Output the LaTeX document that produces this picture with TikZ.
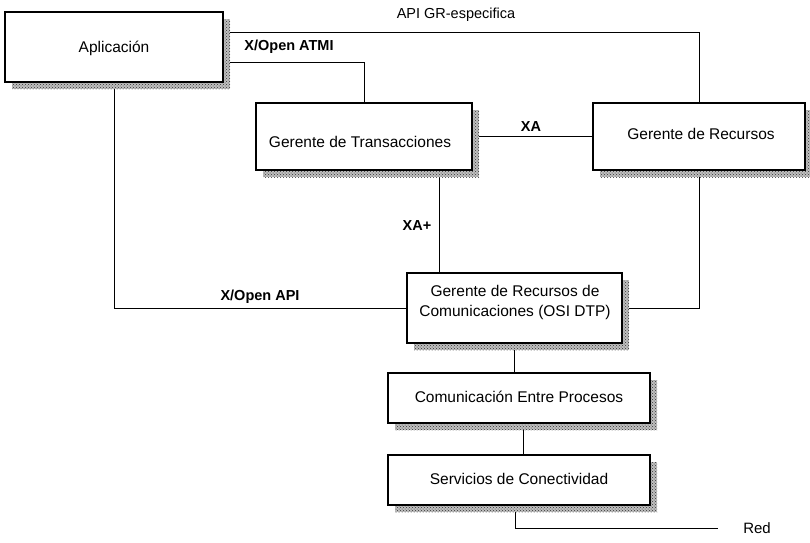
\documentclass[tikz,border=0pt]{standalone}
\usepackage{fontspec}
\setmainfont{Liberation Sans}
\usetikzlibrary{patterns,backgrounds,shadows}
\begin{document}
\begin{tikzpicture}[x=1pt,y=-1pt,
  box/.style={draw, line width=1.2pt, fill=white, inner sep=0pt,
    drop shadow={shadow xshift=7pt, shadow yshift=-7pt, opacity=1,
      fill=black!25, postaction={pattern=crosshatch dots, pattern color=black!80}}},
  boxtext/.style={font=\fontsize{15.5}{20}\selectfont, inner sep=0pt,
    text height=11pt, text depth=0pt},
  lbl/.style={font=\fontsize{14.5}{17}\selectfont, inner sep=0pt, anchor=base},
  lblb/.style={lbl, font=\fontsize{14.5}{17}\selectfont\bfseries},
  wire/.style={line width=1pt}]
\useasboundingbox (0,0) rectangle (810,542);

% boxes
\node[box, minimum width=218pt, minimum height=70pt] (app) at (114,47) {};
\node[boxtext] (appt) at (114,47) {Aplicación};

\node[box, minimum width=216pt, minimum height=67pt] (gt) at (364,136.5) {};
\node[boxtext] (gtt) at (360,142) {Gerente de Transacciones};

\node[box, minimum width=212pt, minimum height=67pt] (gr) at (699,136.5) {};
\node[boxtext] (grt) at (701,134) {Gerente de Recursos};

\node[box, minimum width=215pt, minimum height=70pt] (grc) at (514.5,308) {};
\node[font=\fontsize{15.5}{20}\selectfont, inner sep=0pt, align=center] (grct)
  at (515,302) {Gerente de Recursos de\\Comunicaciones (OSI DTP)};

\node[box, minimum width=262pt, minimum height=50pt] (cep) at (519,398) {};
\node[boxtext] (cept) at (519,397) {Comunicación Entre Procesos};

\node[box, minimum width=262pt, minimum height=50pt] (sc) at (519,480) {};
\node[boxtext] (sct) at (519,478.5) {Servicios de Conectividad};

% connectors
\coordinate (redend) at (718,528);
\begin{pgfonlayer}{background}
\draw[wire] ([yshift=15pt]app.east) -| (gr.north);
\draw[wire] ([yshift=-15pt]app.east) -| (gt.north);
\draw[wire] (gt.east) -- (gr.west);
\draw[wire] ([xshift=75pt]gt.south) -- ([xshift=75pt]gt.south |- grc.north);
\draw[wire] (app.south) |- (grc.west);
\draw[wire] (gr.south) |- (grc.east);
\draw[wire] (grc.south) -- (grc.south |- cep.north);
\draw[wire] ([xshift=4pt]cep.south) -- ([xshift=4pt]cep.south |- sc.north);
\draw[wire] ([xshift=-4pt]sc.south) |- (redend);
\end{pgfonlayer}

% labels
\node[lbl] (apil) at (456,18) {API GR-especifica};
\node[lblb] (atmil) at (289,50) {X/Open ATMI};
\node[lblb] (xal) at (531,131) {XA};
\node[lblb] (xapl) at (417,230) {XA+};
\node[lblb] (xoapil) at (260,300) {X/Open API};
\node[lbl, font=\fontsize{15}{18}\selectfont] (redl) at (757,533) {Red};
\end{tikzpicture}
\end{document}
